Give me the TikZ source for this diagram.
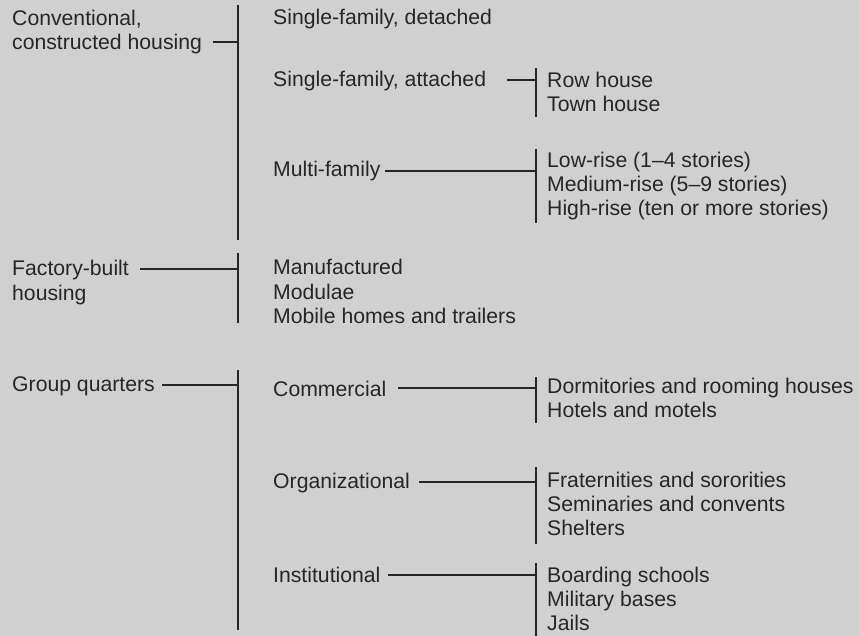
\documentclass[tikz,border=0pt]{standalone}
\usepackage{fontspec}
\setmainfont{Liberation Sans}
\definecolor{ink}{HTML}{262626}
\definecolor{paper}{HTML}{D0D0D0}
\tikzset{every node/.style={anchor=base west,inner sep=0pt,text=ink,font=\fontsize{21.2}{24}\selectfont}}
\tikzset{bar/.style={draw=ink,line width=1.2pt}}

\begin{document}
\begin{tikzpicture}[x=1pt,y=-1pt]
      \fill[paper] (0,0) rectangle (859,636);
      \useasboundingbox (0,0) rectangle (859,636);
      % first level
      \node (conv1) at (12,26) {Conventional,};
      \node (conv2) at (12,50) {constructed housing};
      \node (fact1) at (12,276) {Factory-built};
      \node (fact2) at (12,300) {housing};
      \node (group) at (12,391) {Group quarters};
      % second level
      \node (detach) at (273,25) {Single-family, detached};
      \node (attach) at (273,87) {Single-family, attached};
      \node (multi) at (273,177) {Multi-family};
      \node (manuf) at (273,275) {Manufactured};
      \node (modul) at (273,299) {Modulae};
      \node (mobile) at (273,323) {Mobile homes and trailers};
      \node (comm) at (273,396) {Commercial};
      \node (org) at (273,488) {Organizational};
      \node (inst) at (273,582) {Institutional};
      % third level
      \node (row) at (547,88) {Row house};
      \node (town) at (547,112) {Town house};
      \node (low) at (547,168) {Low-rise (1--4 stories)};
      \node (med) at (547,192) {Medium-rise (5--9 stories)};
      \node (high) at (547,216) {High-rise (ten or more stories)};
      \node (dorm) at (547,393) {Dormitories and rooming houses};
      \node (hotel) at (547,417) {Hotels and motels};
      \node (frat) at (547,487) {Fraternities and sororities};
      \node (semi) at (547,511) {Seminaries and convents};
      \node (shelt) at (547,535) {Shelters};
      \node (board) at (547,582) {Boarding schools};
      \node (milit) at (547,606) {Military bases};
      \node (jail) at (547,630) {Jails};
      % brackets
      \coordinate (convT) at (238,5);   \coordinate (convB) at (238,240);
      \coordinate (factT) at (238,253); \coordinate (factB) at (238,323);
      \coordinate (grpT) at (238,370);  \coordinate (grpB) at (238,630);
      \coordinate (attT) at (536,68);   \coordinate (attB) at (536,117);
      \coordinate (mulT) at (536,149);  \coordinate (mulB) at (536,223);
      \coordinate (comT) at (536,377);  \coordinate (comB) at (536,423);
      \coordinate (orgT) at (536,467);  \coordinate (orgB) at (536,544);
      \coordinate (insT) at (536,563);  \coordinate (insB) at (536,636);
      \draw[bar] (convT) -- (convB);
      \draw[bar] (factT) -- (factB);
      \draw[bar] (grpT) -- (grpB);
      \draw[bar] (attT) -- (attB);
      \draw[bar] (mulT) -- (mulB);
      \draw[bar] (comT) -- (comB);
      \draw[bar] (orgT) -- (orgB);
      \draw[bar] (insT) -- (insB);
      % ticks
      \coordinate (convX) at (213,42);
      \coordinate (factX) at (140,269);
      \coordinate (grpX) at (162,385);
      \coordinate (attX) at (507,80);
      \coordinate (mulX) at (385,171);
      \coordinate (comX) at (398,388);
      \coordinate (orgX) at (419,482);
      \coordinate (insX) at (388,575);
      \draw[bar] (convX) -- (convX -| convT);
      \draw[bar] (factX) -- (factX -| factT);
      \draw[bar] (grpX) -- (grpX -| grpT);
      \draw[bar] (attX) -- (attX -| attT);
      \draw[bar] (mulX) -- (mulX -| mulT);
      \draw[bar] (comX) -- (comX -| comT);
      \draw[bar] (orgX) -- (orgX -| orgT);
      \draw[bar] (insX) -- (insX -| insT);
    \end{tikzpicture}
\end{document}
